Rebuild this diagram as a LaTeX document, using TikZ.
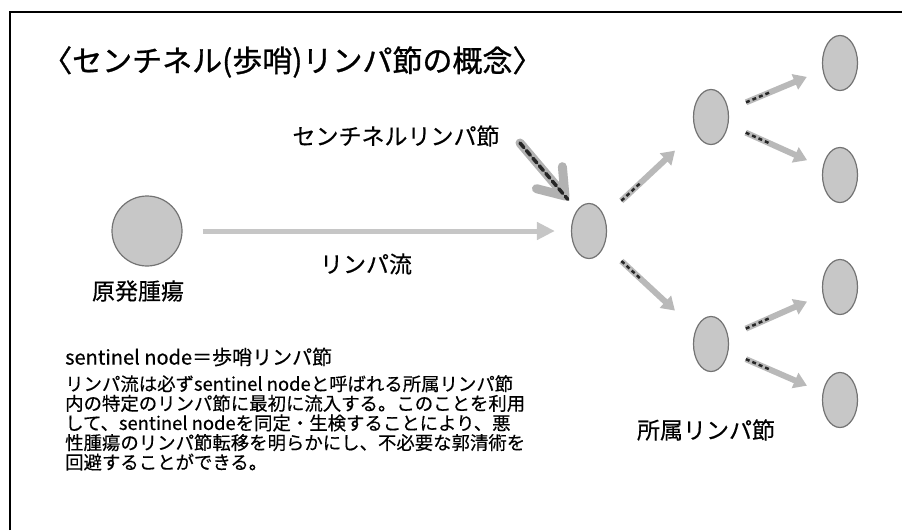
\documentclass[tikz,border=0pt]{standalone}
\usepackage{fontspec}
\setmainfont{Noto Sans CJK JP}[FakeBold=0.4]
\newfontfamily\heavyjp{Noto Sans CJK JP}[FakeBold=1]
\usepackage{tikz}
\usetikzlibrary{positioning}
\usetikzlibrary{shapes.geometric,arrows.meta}

\begin{document}
\begin{tikzpicture}[x=1pt, y=-1pt,
    lnode/.style = {draw=black!55, fill=black!22, line width=1.2pt, ellipse, minimum width=35, minimum height=55, inner sep=0},
    tumor/.style = {draw=black!55, fill=black!22, line width=1.2pt, circle, minimum size=70, inner sep=0},
    big/.style = {font=\fontsize{23}{26}\selectfont, inner sep=0},
    flow/.style = {line width=6pt, gray!55, -{Triangle[width=16pt,length=13pt]}, shorten <=19pt, shorten >=17pt,
      postaction={draw=black!85, line width=2.5pt, -, dash pattern=on 4pt off 3pt on 4pt off 3pt on 4pt off 3pt on 4pt off 200pt}},
    mainflow/.style = {line width=5pt, gray!45, -{Triangle[width=17pt,length=18pt]}},
    senarrow/.style = {line width=9pt, gray!60, line cap=round, -{Straight Barb[length=24pt,width=34pt,round]}, shorten >=14pt,
      postaction={draw=black!85, line width=3.5pt, -, dash pattern=on 6pt off 4pt}}]
    \useasboundingbox (0,0) rectangle (902,530);
    \draw[line width=1.5pt] (10,530) -- (10,12) -- (902,12); % frame

    \node[anchor=west, inner sep=0, font=\heavyjp\fontsize{30}{34}\selectfont] (title) at (42,62) {〈センチネル(歩哨)リンパ節の概念〉};

    \node[tumor] (tumor) at (147,231) {};
    \node[big] (tumorlabel) at (138,291) {原発腫瘍};
    \node[big] (flowlabel) at (366,264) {リンパ流};
    \node[big] (senlabel) at (396,136) {センチネルリンパ節};
    \node[big] (regional) at (706,430) {所属リンパ節};

    \node[lnode] (sentinel) at (589,231) {};
    \node[lnode] (up) at (711,117) {};
    \node[lnode] (low) at (711,344) {};
    \node[lnode] (r1) at (840,63) {};
    \node[lnode] (r2) at (840,175) {};
    \node[lnode] (r3) at (840,287) {};
    \node[lnode] (r4) at (840,400) {};

    \draw[mainflow, shorten <=20pt, shorten >=16pt] (tumor) -- (sentinel);
    \coordinate (senTail) at (520,143);
    \draw[senarrow] (senTail) -- (sentinel.120);

    \draw[flow, shorten <=23pt, shorten >=28pt] (sentinel) -- (up);
    \draw[flow, shorten <=23pt, shorten >=28pt] (sentinel) -- (low);
    \draw[flow] (up) -- (r1);
    \draw[flow] (up) -- (r2);
    \draw[flow] (low) -- (r3);
    \draw[flow] (low) -- (r4);

    \node[anchor=west, inner sep=0, font=\fontsize{20}{22}\selectfont] (def) at (65,357) {sentinel node＝歩哨リンパ節};
    \node[anchor=north west, inner sep=0, align=left, font=\fontsize{18.4}{19.6}\selectfont] (desc) at (65,375)
      {リンパ流は必ずsentinel nodeと呼ばれる所属リンパ節\\
       内の特定のリンパ節に最初に流入する。このことを利用\\
       して、sentinel nodeを同定・生検することにより、悪\\
       性腫瘍のリンパ節転移を明らかにし、不必要な郭清術を\\
       回避することができる。};
\end{tikzpicture}
\end{document}
